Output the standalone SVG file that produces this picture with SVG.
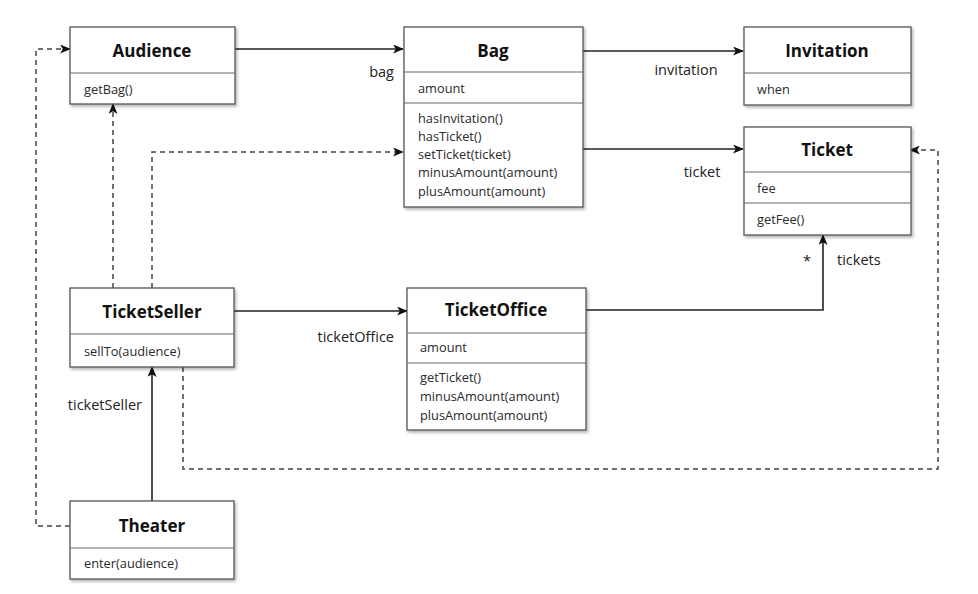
<svg xmlns="http://www.w3.org/2000/svg" width="978" height="594" viewBox="0 0 978 594">
<style>
.box{fill:#fff;stroke:#555;stroke-width:1.3}
.div{stroke:#666;stroke-width:1.2}
.title{font-family:"Open Sans","Noto Sans",sans-serif;font-weight:bold;font-size:17px;fill:#111;text-anchor:middle}
.mem{font-family:"Open Sans","Noto Sans",sans-serif;font-size:12.8px;fill:#2a2a2a}
.lbl{font-family:"Open Sans","Noto Sans",sans-serif;font-size:14.5px;fill:#222}
.solid{fill:none;stroke:#222;stroke-width:1.6}
.dash{fill:none;stroke:#444;stroke-width:1.5;stroke-dasharray:5 4}
</style>
<defs>
<marker id="arr" viewBox="0 0 12 10" refX="11" refY="5" markerWidth="11" markerHeight="9" markerUnits="userSpaceOnUse" orient="auto">
<path d="M0,0 L12,5 L0,10 L3,5 Z" fill="#111"/>
</marker>
<filter id="sh" x="-10%" y="-10%" width="125%" height="125%">
<feDropShadow dx="1.5" dy="2" stdDeviation="1.5" flood-color="#000" flood-opacity="0.3"/>
</filter>
</defs>

<g id="connectors">
<line class="solid" x1="235" y1="49" x2="403" y2="49" marker-end="url(#arr)"/>
<line class="solid" x1="583" y1="51" x2="743" y2="51" marker-end="url(#arr)"/>
<line class="solid" x1="583" y1="149" x2="743" y2="149" marker-end="url(#arr)"/>
<line class="solid" x1="234" y1="311" x2="407" y2="311" marker-end="url(#arr)"/>
<polyline class="solid" points="586,310 823,310 823,235" marker-end="url(#arr)"/>
<line class="solid" x1="152" y1="501" x2="152" y2="367" marker-end="url(#arr)"/>
<line class="dash" x1="113" y1="288" x2="113" y2="104" marker-end="url(#arr)"/>
<polyline class="dash" points="152,288 152,152 403,152" marker-end="url(#arr)"/>
<polyline class="dash" points="70,526 36,526 36,49 70,49" marker-end="url(#arr)"/>
<polyline class="dash" points="183,367 183,469 938,469 938,150 910,150" marker-end="url(#arr)"/>
<text class="lbl" x="394" y="77" text-anchor="end">bag</text>
<text class="lbl" x="686" y="75" text-anchor="middle">invitation</text>
<text class="lbl" x="702" y="177" text-anchor="middle">ticket</text>
<text class="lbl" x="394" y="342" text-anchor="end">ticketOffice</text>
<text class="lbl" x="142" y="410" text-anchor="end">ticketSeller</text>
<text class="lbl" x="807" y="266" text-anchor="middle" font-size="11">*</text>
<text class="lbl" x="837" y="265">tickets</text>
</g>

<g id="Audience">
<rect class="box" filter="url(#sh)" x="70" y="27" width="165" height="77"/>
<line class="div" x1="70" y1="73" x2="235" y2="73"/>
<text class="title" x="152" y="57">Audience</text>
<text class="mem" x="84" y="94">getBag()</text>
</g>

<g id="Bag">
<rect class="box" filter="url(#sh)" x="404" y="27" width="179" height="180"/>
<line class="div" x1="404" y1="72" x2="583" y2="72"/>
<line class="div" x1="404" y1="103" x2="583" y2="103"/>
<text class="title" x="493" y="57">Bag</text>
<text class="mem" x="418" y="93">amount</text>
<text class="mem" x="418" y="123">hasInvitation()</text>
<text class="mem" x="418" y="141">hasTicket()</text>
<text class="mem" x="418" y="159">setTicket(ticket)</text>
<text class="mem" x="418" y="177">minusAmount(amount)</text>
<text class="mem" x="418" y="196">plusAmount(amount)</text>
</g>

<g id="Invitation">
<rect class="box" filter="url(#sh)" x="744" y="27" width="167" height="78"/>
<line class="div" x1="744" y1="73" x2="911" y2="73"/>
<text class="title" x="827" y="57">Invitation</text>
<text class="mem" x="757" y="94">when</text>
</g>

<g id="Ticket">
<rect class="box" filter="url(#sh)" x="744" y="127" width="167" height="108"/>
<line class="div" x1="744" y1="172" x2="911" y2="172"/>
<line class="div" x1="744" y1="203" x2="911" y2="203"/>
<text class="title" x="827" y="156">Ticket</text>
<text class="mem" x="757" y="193">fee</text>
<text class="mem" x="757" y="224">getFee()</text>
</g>

<g id="TicketSeller">
<rect class="box" filter="url(#sh)" x="70" y="288" width="164" height="79"/>
<line class="div" x1="70" y1="334" x2="234" y2="334"/>
<text class="title" x="152" y="318">TicketSeller</text>
<text class="mem" x="84" y="356">sellTo(audience)</text>
</g>

<g id="TicketOffice">
<rect class="box" filter="url(#sh)" x="407" y="288" width="179" height="142"/>
<line class="div" x1="407" y1="333" x2="586" y2="333"/>
<line class="div" x1="407" y1="363" x2="586" y2="363"/>
<text class="title" x="496" y="316">TicketOffice</text>
<text class="mem" x="420" y="352">amount</text>
<text class="mem" x="420" y="382">getTicket()</text>
<text class="mem" x="420" y="401">minusAmount(amount)</text>
<text class="mem" x="420" y="420">plusAmount(amount)</text>
</g>

<g id="Theater">
<rect class="box" filter="url(#sh)" x="70" y="501" width="164" height="78"/>
<line class="div" x1="70" y1="548" x2="234" y2="548"/>
<text class="title" x="152" y="532">Theater</text>
<text class="mem" x="84" y="568">enter(audience)</text>
</g>
</svg>
